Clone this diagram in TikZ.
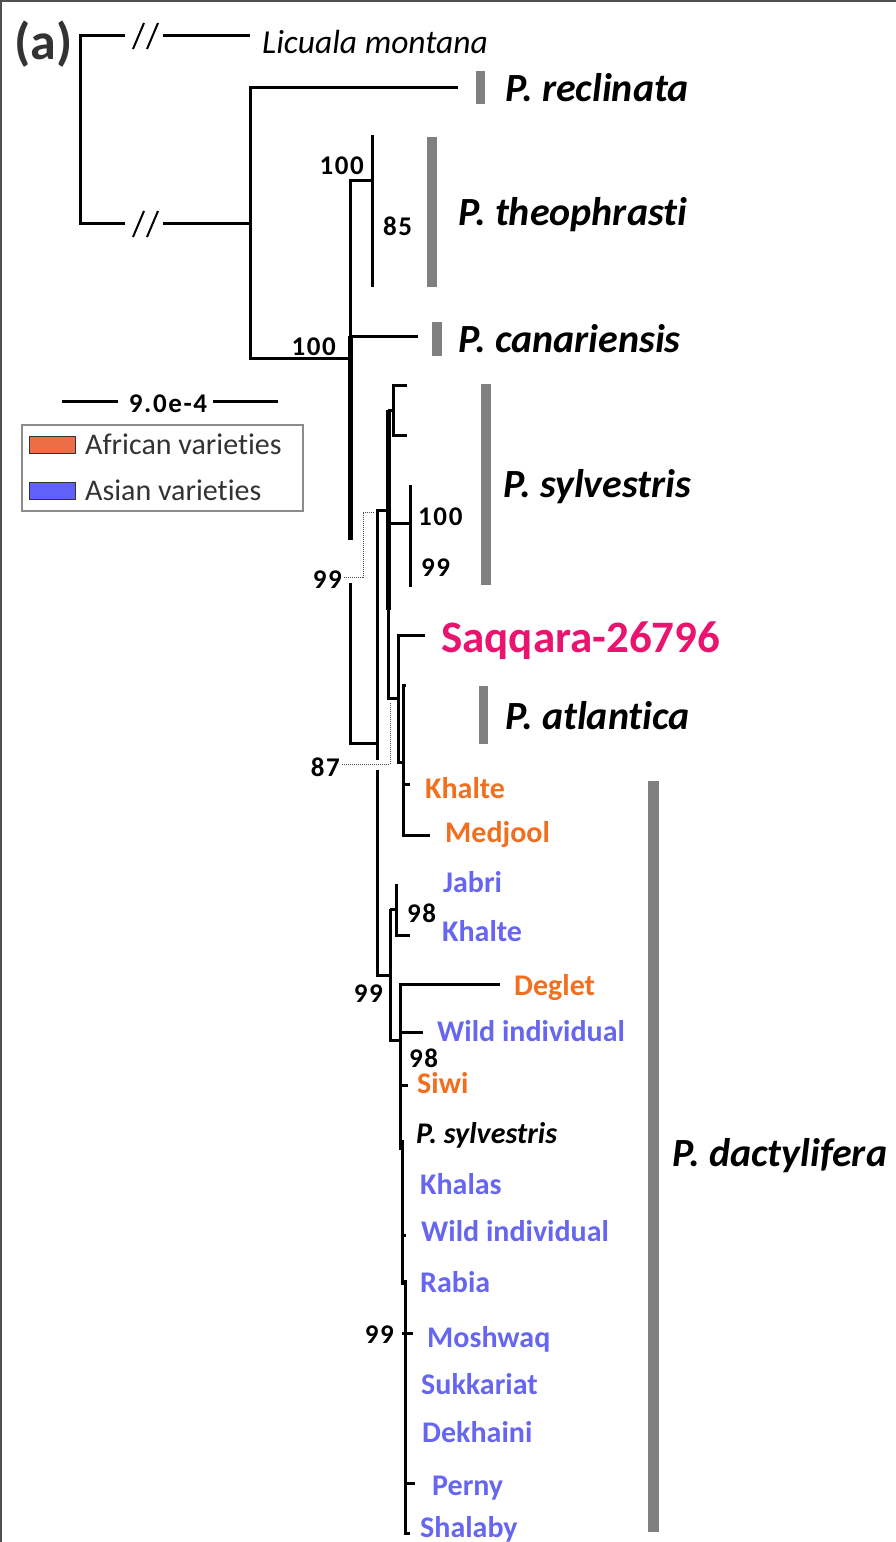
\documentclass[tikz,border=0pt]{standalone}
\usepackage{fontspec}
\setmainfont{Carlito}[Ligatures=NoCommon]
\definecolor{afr}{RGB}{240,112,32}
\definecolor{asi}{RGB}{102,102,240}
\definecolor{saq}{RGB}{233,20,110}
\definecolor{barc}{RGB}{128,128,128}
\definecolor{swafr}{RGB}{236,110,70}
\definecolor{swasi}{RGB}{96,96,250}
\definecolor{frame}{RGB}{80,80,80}
\tikzset{
  br/.style={line width=3pt, line join=miter, line cap=butt},
  brthick/.style={line width=5pt, line cap=butt},
  dotline/.style={line width=1pt, densely dotted, black!70},
  txt/.style={inner sep=0pt},
  cult/.style={txt, anchor=base west, yshift=-10.5pt, font=\fontsize{30}{30}\selectfont\bfseries},
  africa/.style={cult, text=afr},
  asia/.style={cult, text=asi},
  spec/.style={txt, anchor=base west, yshift=-13pt, font=\fontsize{40}{40}\selectfont\bfseries\itshape},
  boot/.style={txt, yshift=-10pt, font=\fontsize{27}{27}\selectfont\bfseries\addfontfeature{LetterSpace=6}},
  bootL/.style={boot, anchor=base west},
  bootR/.style={boot, anchor=base east},
  legtxt/.style={txt, anchor=base west, yshift=-10pt, text=black!80, font=\fontsize{30}{30}\selectfont},
  groupbar/.style={fill=barc, draw=none},
  swatch/.style={draw=black!80, line width=1pt, minimum width=46pt, minimum height=17pt, inner sep=0pt, anchor=west},
}
\begin{document}
\begin{tikzpicture}[x=1pt,y=-1pt]
\useasboundingbox (0,0) rectangle (896,1542);
\fill[white] (0,0) rectangle (896,1542);
\draw[frame, line width=2pt] (1,1542) -- (1,1) -- (896,1);

% panel letter
\node[txt, anchor=base west, yshift=-13pt, text=black!80, font=\fontsize{52}{52}\selectfont\bfseries] (panel) at (14,46) {(a)};

% ---------- coordinates of the tree ----------
\coordinate (rootT) at (80,35);
\coordinate (rootB) at (80,223);
\coordinate (cutT1) at (125,35);
\coordinate (cutT2) at (163,35);
\coordinate (licTip) at (250,35);
\coordinate (cutB1) at (125,223);
\coordinate (cutB2) at (163,223);
\coordinate (ing) at (250,223);
\coordinate (ingT) at (250,87);
\coordinate (ingB) at (250,358);
\coordinate (recTip) at (458,87);
\coordinate (nA) at (350,358);
\coordinate (nAtop) at (350,180);
\coordinate (nTheo) at (372,180);
\coordinate (theoT) at (372,135);
\coordinate (theoB) at (372,287);
\coordinate (canJ) at (350,336);
\coordinate (canTip) at (418,336);
\coordinate (aGap1) at (350,540);
\coordinate (aGap2) at (350,583);
\coordinate (aBot) at (350,743);
\coordinate (nB) at (377,743);
\coordinate (bTop) at (377,510);
\coordinate (bGap1) at (377,760);
\coordinate (bGap2) at (377,770);
\coordinate (bBot) at (377,975);
\coordinate (nC) at (388,510);
\coordinate (cTop) at (388,410);
\coordinate (cMid) at (388,610);
\coordinate (cBot) at (388,698);
\coordinate (nSylA) at (393,410);
\coordinate (sylAT) at (393,385);
\coordinate (sylAB) at (393,435);
\coordinate (sylAtip1) at (407,385);
\coordinate (sylAtip2) at (407,435);
\coordinate (cJ) at (388,523);
\coordinate (nSylB) at (410,523);
\coordinate (sylBT) at (410,485);
\coordinate (sylBB) at (410,587);
\coordinate (nD) at (398,698);
\coordinate (dTop) at (398,635);
\coordinate (dBot) at (398,762);
\coordinate (saqTip) at (425,635);
\coordinate (nE) at (403,762);
\coordinate (eTop) at (403,685);
\coordinate (eBot) at (403,835);
\coordinate (atlTip) at (406,685);
\coordinate (eK) at (403,784);
\coordinate (khalteTip) at (410,784);
\coordinate (medTip) at (430,835);
\coordinate (nF) at (390,975);
\coordinate (fTop) at (390,909);
\coordinate (fBot) at (390,1040);
\coordinate (nG) at (396,909);
\coordinate (gTop) at (396,884);
\coordinate (gBot) at (396,935);
\coordinate (khalteAsTip) at (410,935);
\coordinate (nH) at (400,1040);
\coordinate (hTop) at (400,984);
\coordinate (hBot) at (400,1150);
\coordinate (degTip) at (500,984);
\coordinate (hW) at (400,1032);
\coordinate (wildTip) at (423,1032);
\coordinate (hS) at (400,1085);
\coordinate (siwiTip) at (408,1085);
\coordinate (combT) at (402,1140);
\coordinate (combM) at (402,1285);
\coordinate (combM2) at (405,1280);
\coordinate (combB) at (405,1533);
\coordinate (shalTip) at (410,1533);
\coordinate (c1) at (402,1235);
\coordinate (c1t) at (406,1235);
\coordinate (c2) at (402,1333);
\coordinate (c2t) at (413,1333);
\coordinate (c3) at (405,1483);
\coordinate (c3t) at (415,1483);

% ---------- branches ----------
\draw[br] (cutT1) -- (rootT) -- (rootB) -- (cutB1);
\draw[br] (cutT2) -- (licTip);
\draw[br] (cutB2) -- (ing);
\foreach \yy in {35,223}{
  \draw[line width=2pt] (133,\yy+14) -- (144,\yy-12);
  \draw[line width=2pt] (147,\yy+14) -- (158,\yy-12);
}
\draw[br] (recTip) -- (ingT) -- (ingB) -- (nA);
\draw[br] (nTheo) -- (nAtop) -- (canJ);
\draw[brthick] (canJ) -- (aGap1);
\draw[br] (theoT) -- (theoB);
\draw[br] (canJ) -- (canTip);
\draw[br] (aGap2) -- (aBot) -- (nB);
\draw[br] (nC) -- (bTop) -- (bGap1);
\draw[br] (bGap2) -- (bBot) -- (nF);
\draw[brthick] (cTop) -- (cMid);
\draw[br] (cMid) -- (cBot) -- (nD);
\draw[br] (cTop) -- (nSylA);
\draw[br] (sylAtip1) -- (sylAT) -- (sylAB) -- (sylAtip2);
\draw[br] (cJ) -- (nSylB);
\draw[br] (sylBT) -- (sylBB);
\draw[br] (saqTip) -- (dTop) -- (dBot) -- (nE);
\draw[br] (atlTip) -- (eTop) -- (eBot) -- (medTip);
\draw[br] (eK) -- (khalteTip);
\draw[br] (fTop) -- (fBot) -- (nH);
\draw[br] (fTop) -- (nG);
\draw[br] (gTop) -- (gBot) -- (khalteAsTip);
\draw[br] (degTip) -- (hTop) -- (hBot);
\draw[br] (hW) -- (wildTip);
\draw[br] (hS) -- (siwiTip);
\draw[br] (combT) -- (combM);
\draw[br] (combM2) -- (combB) -- (shalTip);
\draw[br] (c1) -- (c1t);
\draw[br] (c2) -- (c2t);
\draw[br] (c3) -- (c3t);

% ---------- support values ----------
\node[bootR] (b100a) at (364,164) {100};
\node[bootL] (b85) at (383,225) {85};
\node[bootR] (b100b) at (336,345) {100};
\node[bootR] (b99a) at (342,578) {99};
\node[bootR] (b87) at (340,766) {87};
\node[bootL] (b100c) at (418,515) {100};
\node[bootL] (b99b) at (421,566) {99};
\node[bootR] (b99c) at (383,992) {99};
\node[bootL] (b98a) at (407,912) {98};
\node[bootL] (b98b) at (409,1057) {98};
\node[bootR] (b99d) at (394,1333) {99};
\coordinate (d99) at (344,577);
\coordinate (d87) at (342,764);
\draw[dotline] (d99) -- (363,577) -- (363,512) -- (375,512);
\draw[dotline] (d87) -- (390,764) -- (390,703);

% ---------- group bars ----------
\fill[groupbar] (476,71) rectangle (485,104);
\fill[groupbar] (427,137) rectangle (437,287);
\fill[groupbar] (432,322) rectangle (442,356);
\fill[groupbar] (481,384) rectangle (491,585);
\fill[groupbar] (479,686) rectangle (488,744);
\fill[groupbar] (648,781) rectangle (659,1532);

% ---------- taxon names ----------
\node[txt, anchor=base west, yshift=-11pt, font=\fontsize{33.5}{33.5}\selectfont\itshape] (lic) at (262,42) {Licuala montana};
\node[spec] (recl) at (505,88) {P. reclinata};
\node[spec] (theo) at (458,212) {P. theophrasti};
\node[spec] (canar) at (458,339) {P. canariensis};
\node[spec] (sylv) at (503,484) {P. sylvestris};
\node[txt, anchor=base west, yshift=-15.5pt, text=saq, font=\fontsize{45}{45}\selectfont\bfseries] (saqq) at (441,637) {Saqqara-26796};
\node[spec] (atl) at (505,716) {P. atlantica};
\node[spec] (dact) at (672,1153) {P. dactylifera};

\node[africa] (l1) at (425,788) {Khalte};
\node[africa] (l2) at (445,832) {Medjool};
\node[asia] (l3) at (443,882) {Jabri};
\node[asia] (l4) at (442,931) {Khalte};
\node[africa] (l5) at (514,985) {Deglet};
\node[asia] (l6) at (437,1031) {Wild individual};
\node[africa] (l7) at (417,1083) {Siwi};
\node[cult, font=\fontsize{30}{30}\selectfont\bfseries\itshape] (l8) at (416,1133) {P. sylvestris};
\node[asia] (l9) at (420,1184) {Khalas};
\node[asia] (l10) at (421,1231) {Wild individual};
\node[asia] (l11) at (420,1282) {Rabia};
\node[asia] (l12) at (427,1337) {Moshwaq};
\node[asia] (l13) at (421,1384) {Sukkariat};
\node[asia] (l14) at (422,1432) {Dekhaini};
\node[asia] (l15) at (432,1485) {Perny};
\node[asia] (l16) at (420,1527) {Shalaby};

% ---------- scale bar ----------
\node[boot, anchor=base] (scale) at (168,402) {9.0e-4};
\coordinate (sbL) at (62,401);
\coordinate (sbR) at (278,401);
\draw[line width=3pt] (sbL) -- (118,401);
\draw[line width=3pt] (213,401) -- (sbR);

% ---------- legend ----------
\node[draw=black!45, line width=2pt, minimum width=281pt, minimum height=86pt, anchor=north west, inner sep=0pt] (legend) at (21,424) {};
\node[swatch, fill=swafr] (swA) at (29,444.5) {};
\node[swatch, fill=swasi] (swB) at (29,490.5) {};
\node[legtxt] (legA) at (85,444) {African varieties};
\node[legtxt] (legB) at (85,490) {Asian varieties};
\end{tikzpicture}
\end{document}
